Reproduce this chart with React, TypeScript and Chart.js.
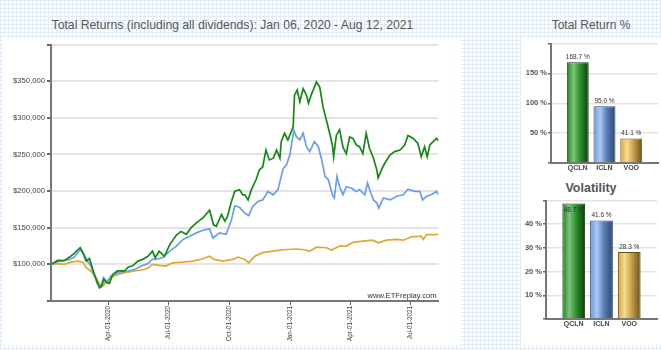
import React, { useEffect, useRef } from "react";
import { Chart, registerables } from "chart.js";
Chart.register(...registerables);

// Days are counted from Jan 06, 2020 (day 0) to Aug 12, 2021 (day 584)
const qclnDays = [0, 10, 20, 28, 35, 44, 48, 53, 58, 63, 68, 73, 76, 80, 83, 88, 93, 100, 111, 116, 123, 131, 138, 146, 153, 157, 163, 171, 179, 189, 196, 204, 211, 219, 229, 239, 245, 249, 257, 262, 266, 272, 277, 284, 289, 292, 297, 302, 309, 314, 319, 324, 329, 335, 340, 345, 347, 352, 357, 362, 365, 367, 371, 375, 380, 385, 388, 392, 397, 400, 405, 410, 415, 420, 424, 426, 430, 435, 440, 445, 450, 455, 460, 465, 470, 475, 480, 486, 491, 493, 498, 503, 511, 518, 526, 533, 538, 546, 553, 558, 563, 567, 571, 576, 581, 584];
const qclnValues = [100000, 105400, 105000, 110000, 115000, 122700, 116000, 104500, 108000, 93000, 79600, 68000, 70000, 79600, 75500, 74000, 86000, 91000, 91000, 96000, 98000, 104500, 106800, 111000, 118000, 109000, 118000, 111000, 127000, 140000, 145000, 141000, 150000, 156600, 163400, 173800, 154000, 152000, 168000, 159000, 165600, 186000, 200000, 202000, 195000, 195000, 188000, 202000, 215500, 229000, 233000, 256000, 242600, 245000, 256000, 245000, 267500, 279000, 270000, 281000, 288000, 331000, 338000, 322000, 340000, 331000, 320000, 331000, 342000, 349000, 342000, 315000, 297000, 279000, 263000, 247000, 276000, 284000, 260000, 251000, 274000, 272000, 263000, 260600, 251000, 279000, 258500, 245000, 229000, 218000, 229000, 238000, 249500, 254000, 256000, 263000, 276000, 272000, 265000, 247000, 260600, 247000, 263000, 267500, 272000, 268700];

const iclnDays = [0, 10, 28, 35, 44, 50, 55, 60, 65, 70, 75, 79, 85, 90, 100, 115, 126, 136, 146, 153, 158, 168, 179, 189, 199, 209, 219, 229, 239, 244, 254, 264, 272, 277, 284, 292, 298, 304, 312, 319, 327, 335, 342, 350, 355, 360, 366, 370, 375, 380, 385, 390, 397, 403, 408, 413, 418, 424, 427, 431, 435, 438, 440, 445, 453, 460, 465, 473, 477, 482, 486, 491, 494, 501, 511, 521, 531, 538, 548, 556, 560, 566, 573, 581, 584];
const iclnValues = [100000, 103600, 106800, 110000, 120000, 113600, 104500, 97700, 86000, 72800, 70000, 82000, 75000, 84000, 88700, 91000, 93000, 97700, 101000, 107000, 106800, 109000, 118000, 125000, 134000, 138500, 143000, 146600, 148500, 136000, 143000, 141000, 161000, 180000, 178000, 170000, 166600, 179000, 186000, 188000, 199600, 195000, 202000, 231000, 236000, 249500, 283000, 274000, 270000, 279000, 260600, 254000, 267500, 260600, 242600, 220000, 215500, 195000, 190600, 220000, 206000, 199600, 195000, 206000, 204000, 199600, 202000, 195000, 211000, 197000, 188000, 184000, 177000, 190600, 188000, 193000, 195000, 202700, 199600, 199600, 188000, 193000, 195000, 199600, 195000];

const vooDays = [0, 10, 20, 30, 40, 48, 53, 60, 68, 73, 78, 83, 90, 100, 111, 126, 141, 148, 153, 163, 173, 183, 198, 214, 229, 239, 246, 259, 274, 282, 292, 298, 307, 319, 334, 350, 370, 382, 390, 400, 415, 423, 435, 445, 455, 470, 485, 493, 506, 521, 531, 543, 558, 561, 566, 578, 584];
const vooValues = [100000, 101000, 100000, 103000, 104500, 103000, 95500, 91000, 82000, 73000, 70000, 77000, 82000, 86000, 88700, 91000, 93000, 96000, 100000, 98600, 97700, 102000, 103000, 104500, 107700, 111000, 106800, 104500, 106800, 110000, 106800, 102000, 111000, 116000, 118000, 120000, 121000, 120000, 118000, 123500, 122700, 119500, 125000, 125000, 130000, 131700, 133000, 129500, 133000, 134000, 133000, 137600, 138500, 134000, 140700, 140700, 141100];

const tickDays = [86, 177, 269, 361, 451, 542];
const tickLabels = ["Apr-01-2020", "Jul-01-2020", "Oct-01-2020", "Jan-01-2021", "Apr-01-2021", "Jul-01-2021"];

const tickers = ["QCLN", "ICLN", "VOO"];
const totalReturn = [168.7, 95.0, 41.1];
const volatility = [48.7, 41.6, 28.3];

const lineColors = ["#138a13", "#6b9ef0", "#e2a72e"];
const barStops = [
  ["#1f7f1f", "#7cc47c", "#2f8f2f", "#0c400c"],
  ["#6d95d6", "#acc8f6", "#5a7fb8", "#2d466f"],
  ["#d6a23a", "#f6dd8e", "#c9a04a", "#66501c"],
];

const FONT = "'Liberation Sans', Arial, sans-serif";

function pts(days: number[], vals: number[]) {
  return days.map((d, i) => ({ x: d, y: vals[i] }));
}

const watermark = {
  id: "watermark",
  afterDraw(chart: any) {
    const { ctx, chartArea } = chart;
    ctx.save();
    ctx.font = `7.6px ${FONT}`;
    ctx.fillStyle = "#333";
    ctx.textAlign = "right";
    ctx.textBaseline = "alphabetic";
    ctx.fillText("www.ETFreplay.com", chartArea.right - 2, chartArea.bottom - 3);
    ctx.restore();
  },
};

const barLabels = {
  id: "barLabels",
  afterDatasetsDraw(chart: any) {
    const { ctx, chartArea } = chart;
    const meta = chart.getDatasetMeta(0);
    const data = chart.data.datasets[0].data;
    ctx.save();
    ctx.font = `6.5px ${FONT}`;
    ctx.fillStyle = "#333";
    ctx.textAlign = "center";
    meta.data.forEach((el: any, i: number) => {
      const v = data[i];
      if (v == null) return;
      const txt = `${Number(v).toFixed(1)} %`;
      let y = el.y - 3;
      if (y - 7 < chartArea.top) y = el.y + 8;
      ctx.fillText(txt, el.x, y);
    });
    ctx.restore();
  },
};

function makeBarConfig(values: number[], max: number, step: number, yWidth: number, xHeight: number, padRight: number, padTop: number) {
  const labels = ["", ...tickers, ""];
  const data = [null, ...values, null];
  const barPct = 0.82;
  return {
    type: "bar",
    data: {
      labels,
      datasets: [
        {
          data,
          barPercentage: barPct,
          categoryPercentage: 1,
          borderWidth: 1,
          borderColor: (c: any) => barStops[(c.dataIndex - 1 + 3) % 3][3],
          backgroundColor: (c: any) => {
            const chart = c.chart;
            const xs = chart.scales && chart.scales.x;
            const idx = c.dataIndex - 1;
            const stops = barStops[(idx + 3) % 3];
            if (!xs || !chart.chartArea) return stops[1];
            const cx = xs.getPixelForValue(c.dataIndex);
            const w = (xs.getPixelForValue(1) - xs.getPixelForValue(0)) * barPct;
            const g = chart.ctx.createLinearGradient(cx - w / 2, 0, cx + w / 2, 0);
            g.addColorStop(0, stops[0]);
            g.addColorStop(0.3, stops[1]);
            g.addColorStop(0.6, stops[2]);
            g.addColorStop(1, stops[3]);
            return g;
          },
        },
      ],
    },
    options: {
      animation: false,
      responsive: true,
      maintainAspectRatio: false,
      layout: { padding: { left: 0, right: padRight, top: padTop, bottom: 0 } },
      plugins: { legend: { display: false }, tooltip: { enabled: false } },
      scales: {
        x: {
          offset: false,
          grid: { display: false, offset: false, drawTicks: false, tickLength: 0 },
          border: { color: "#777", width: 2 },
          ticks: {
            font: { family: FONT, size: 7, weight: "bold" },
            color: "#444",
            padding: 1,
            maxRotation: 0,
            autoSkip: false,
          },
          afterFit(scale: any) {
            scale.height = xHeight;
          },
        },
        y: {
          min: 0,
          max,
          ticks: {
            stepSize: step,
            font: { family: FONT, size: 7.5, weight: "bold" },
            color: "#555",
            padding: 1,
            callback: (v: number) => (v === 0 || v === max ? "" : `${v} %`),
          },
          grid: { color: "#e4e4e4", lineWidth: 1.5, tickColor: "#666", tickLength: 3 },
          border: { color: "#777", width: 2 },
          afterFit(scale: any) {
            scale.width = yWidth;
          },
        },
      },
    },
    plugins: [barLabels],
  } as any;
}

function ChartCanvas({ config }: { config: any }) {
  const ref = useRef<HTMLCanvasElement | null>(null);
  useEffect(() => {
    if (!ref.current) return;
    const chart = new Chart(ref.current, config);
    return () => chart.destroy();
  }, []);
  return <canvas ref={ref} />;
}

const mainConfig: any = {
  type: "line",
  data: {
    datasets: [
      { label: "QCLN", data: pts(qclnDays, qclnValues), borderColor: lineColors[0] },
      { label: "ICLN", data: pts(iclnDays, iclnValues), borderColor: lineColors[1] },
      { label: "VOO", data: pts(vooDays, vooValues), borderColor: lineColors[2] },
    ].map((d) => ({ ...d, borderWidth: 1.7, pointRadius: 0, tension: 0, fill: false })),
  },
  options: {
    animation: false,
    responsive: true,
    maintainAspectRatio: false,
    layout: { padding: { left: 0, right: 23.5, top: 6, bottom: 0 } },
    plugins: { legend: { display: false }, tooltip: { enabled: false } },
    scales: {
      x: {
        type: "linear",
        min: 0,
        max: 584,
        afterBuildTicks(scale: any) {
          scale.ticks = tickDays.map((v) => ({ value: v }));
        },
        ticks: {
          autoSkip: false,
          maxRotation: 90,
          minRotation: 90,
          font: { family: FONT, size: 6.3 },
          color: "#444",
          padding: 1,
          callback: (_v: any, i: number) => tickLabels[i] ?? "",
        },
        grid: { drawOnChartArea: false, drawTicks: true, tickLength: 4, tickColor: "#666" },
        border: { color: "#777", width: 2 },
        afterFit(scale: any) {
          scale.height = 44;
        },
      },
      y: {
        min: 50000,
        max: 400000,
        ticks: {
          stepSize: 50000,
          font: { family: FONT, size: 7.7 },
          color: "#444",
          padding: 2,
          callback: (v: number) => (v === 50000 || v === 400000 ? "" : "$" + v.toLocaleString("en-US")),
        },
        grid: { color: "#e4e4e4", lineWidth: 2, tickColor: "#666", tickLength: 4 },
        border: { color: "#777", width: 2 },
        afterFit(scale: any) {
          scale.width = 48;
        },
      },
    },
  },
  plugins: [watermark],
};

const totalConfig = makeBarConfig(totalReturn, 200, 50, 30, 12, 3, 4);
const volConfig = makeBarConfig(volatility, 50, 10, 25, 16, 4, 4);

const gridBg: React.CSSProperties = {
  backgroundColor: "#ffffff",
  backgroundImage:
    "linear-gradient(#e1ecf7 1px, transparent 1px), linear-gradient(90deg, #e1ecf7 1px, transparent 1px)",
  backgroundSize: "4px 4px",
};

export default function App() {
  const abs = (l: number, t: number, w: number, h: number): React.CSSProperties => ({
    position: "absolute",
    left: l,
    top: t,
    width: w,
    height: h,
  });
  const titleStyle: React.CSSProperties = {
    fontFamily: FONT,
    fontSize: 12,
    lineHeight: "12px",
    color: "#555",
    textAlign: "center",
    whiteSpace: "nowrap",
  };
  return (
    <div style={{ position: "absolute", left: 0, top: 0, width: 661, height: 350, overflow: "hidden", ...gridBg }}>
      <div style={{ ...abs(3, 19, 459, 12), ...titleStyle, fontSize: 12.2 }}>
        Total Returns (including all dividends): Jan 06, 2020 - Aug 12, 2021
      </div>
      <div style={{ ...abs(521, 19, 140, 12), ...titleStyle }}>Total Return %</div>
      <div style={{ ...abs(3, 38, 459, 307), background: "#fff" }}>
        <ChartCanvas config={mainConfig} />
      </div>
      <div style={{ ...abs(521, 38, 140, 307), background: "#fff" }} />
      <div style={abs(521, 38, 140, 137)}>
        <ChartCanvas config={totalConfig} />
      </div>
      <div style={{ ...abs(521, 182, 140, 14), ...titleStyle, fontSize: 12.5, lineHeight: "13px", fontWeight: "bold" }}>
        Volatility
      </div>
      <div style={abs(521, 195, 140, 140)}>
        <ChartCanvas config={volConfig} />
      </div>
    </div>
  );
}
